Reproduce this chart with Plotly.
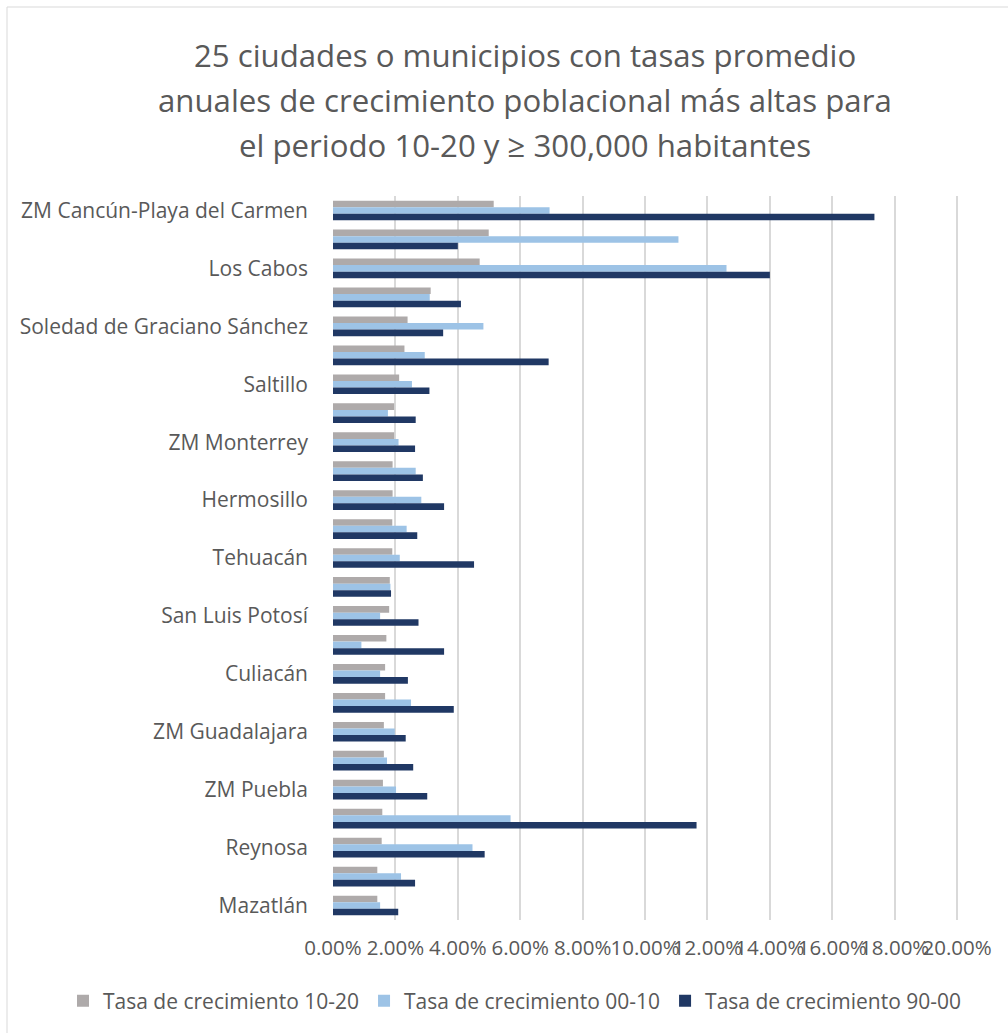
import plotly.graph_objects as go

categories = [
    "ZM Cancún-Playa del Carmen", "", "Los Cabos", "", "Soledad de Graciano Sánchez", "",
    "Saltillo", "", "ZM Monterrey", "", "Hermosillo", "", "Tehuacán", "",
    "San Luis Potosí", "", "Culiacán", "", "ZM Guadalajara", "", "ZM Puebla", "",
    "Reynosa", "", "Mazatlán",
]
tasa_10_20 = [5.15, 4.99, 4.70, 3.13, 2.39, 2.29, 2.12, 1.96, 1.96, 1.91, 1.91, 1.90, 1.90,
              1.82, 1.80, 1.71, 1.67, 1.67, 1.63, 1.63, 1.60, 1.58, 1.56, 1.42, 1.42]
tasa_00_10 = [6.94, 11.07, 12.61, 3.10, 4.82, 2.94, 2.53, 1.76, 2.10, 2.65, 2.83, 2.36, 2.14,
              1.84, 1.51, 0.91, 1.51, 2.50, 1.98, 1.73, 2.02, 5.69, 4.47, 2.18, 1.51]
tasa_90_00 = [17.35, 4.00, 14.00, 4.10, 3.53, 6.91, 3.09, 2.65, 2.63, 2.88, 3.56, 2.70, 4.52,
              1.86, 2.74, 3.56, 2.40, 3.87, 2.33, 2.57, 3.02, 11.65, 4.86, 2.63, 2.09]
series_names = ["Tasa de crecimiento 10-20", "Tasa de crecimiento 00-10", "Tasa de crecimiento 90-00"]
colors = ["#AEAAAA", "#9DC3E6", "#203864"]
x_ticks = [0, 0.02, 0.04, 0.06, 0.08, 0.10, 0.12, 0.14, 0.16, 0.18, 0.20]
title_lines = [
    "25 ciudades o municipios con tasas promedio",
    "anuales de crecimiento poblacional más altas para",
    "el periodo 10-20 y ≥ 300,000 habitantes",
]

pos = list(range(len(categories)))
fig = go.Figure()
for name, vals, c in zip(series_names, [tasa_10_20, tasa_00_10, tasa_90_00], colors):
    fig.add_trace(go.Bar(
        y=pos, x=[v / 100 for v in vals], orientation="h", name=name,
        marker=dict(color=c, line=dict(width=0)),
    ))

W, H = 1008, 1033
L, R, T, B = 333, 959, 196, 920
PW, PH = R - L, B - T
font_family = "'Open Sans', sans-serif"
fig.update_layout(
    width=W, height=H,
    margin=dict(l=L, r=W - R, t=T, b=H - B, autoexpand=False),
    paper_bgcolor="white", plot_bgcolor="white",
    barmode="group", bargap=0.32, bargroupgap=0,
    font=dict(family=font_family, color="#595959", size=21),
    xaxis=dict(
        range=[0, 0.2006], tickvals=x_ticks, tickformat=".2%", tickangle=0,
        showgrid=True, gridcolor="#D9D9D9", gridwidth=1.5,
        zeroline=False, showline=False,
        ticks="outside", ticklen=9, tickcolor="rgba(0,0,0,0)",
        tickfont=dict(size=20.5, color="#595959"),
        fixedrange=True,
    ),
    yaxis=dict(
        tickvals=pos[::2], ticktext=categories[::2],
        range=[24.5, -0.5], autorange=False,
        showgrid=False, zeroline=False, showline=False,
        ticklabelstandoff=24,
        tickfont=dict(size=21, color="#595959"),
    ),
    legend=dict(
        orientation="h", xref="paper", x=(63 - L) / PW, xanchor="left",
        y=(B - 1001) / PH, yanchor="middle",
        font=dict(size=21, color="#595959"),
        traceorder="normal", itemwidth=30,
    ),
    showlegend=True,
)

for i, line in enumerate(title_lines):
    fig.add_annotation(
        text=line, xref="paper", yref="paper",
        x=(525 - L) / PW, y=(B - (55 + 45 * i)) / PH,
        xanchor="center", yanchor="middle", showarrow=False,
        font=dict(size=31.2, color="#595959", family=font_family),
    )

# chart border
fig.add_shape(type="rect", xref="paper", yref="paper",
              x0=(7 - L) / PW, x1=(1040 - L) / PW,
              y0=(B - 1060) / PH, y1=(B - 7) / PH,
              line=dict(color="#D9D9D9", width=1), fillcolor="rgba(0,0,0,0)", layer="below")

fig.write_html("out.html")
